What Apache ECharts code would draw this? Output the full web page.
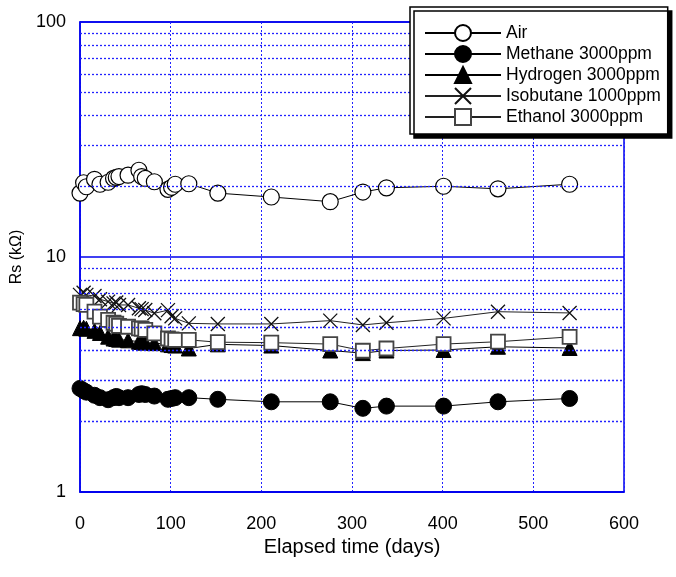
<!DOCTYPE html>
<html>
<head>
<meta charset="utf-8">
<script src="https://cdn.jsdelivr.net/npm/echarts@6/dist/echarts.min.js"></script>
<style>
html,body{margin:0;padding:0;background:#fff;}
#c{width:676px;height:577px;}
</style>
</head>
<body>
<div id="c"></div>
<script>
const days = [0, 4, 7, 16, 22, 31, 37, 40, 43, 53, 65, 68, 72, 82, 97, 101, 105, 120, 152, 211, 276, 312, 338, 401, 461, 540];
const air = [18.7, 20.7, 19.9, 21.4, 20.4, 20.8, 21.6, 21.8, 22.0, 22.3, 23.4, 22.0, 21.6, 20.9, 19.4, 19.8, 20.4, 20.5, 18.7, 18.0, 17.2, 18.9, 19.7, 20.0, 19.5, 20.4];
const methane = [2.76, 2.70, 2.66, 2.58, 2.52, 2.47, 2.52, 2.55, 2.52, 2.52, 2.60, 2.62, 2.60, 2.56, 2.48, 2.50, 2.52, 2.52, 2.48, 2.42, 2.42, 2.27, 2.32, 2.32, 2.42, 2.50];
const hydrogen = [4.98, 5.00, 4.95, 4.85, 4.75, 4.58, 4.50, 4.48, 4.45, 4.42, 4.36, 4.35, 4.32, 4.30, 4.25, 4.22, 4.20, 4.08, 4.25, 4.20, 4.00, 3.90, 4.00, 4.02, 4.15, 4.10];
const isobutane = [6.90, 7.05, 6.90, 6.82, 6.61, 6.46, 6.35, 6.40, 6.25, 6.25, 6.05, 6.00, 5.95, 5.76, 5.94, 5.60, 5.48, 5.22, 5.19, 5.19, 5.36, 5.14, 5.25, 5.48, 5.85, 5.78];
const ethanol = [6.40, 6.30, 6.25, 5.85, 5.57, 5.40, 5.25, 5.20, 5.09, 5.05, 4.97, 4.95, 4.90, 4.73, 4.50, 4.46, 4.44, 4.44, 4.34, 4.32, 4.26, 3.99, 4.08, 4.26, 4.36, 4.57];
const seriesNames = ['Air', 'Methane 3000ppm', 'Hydrogen 3000ppm', 'Isobutane 1000ppm', 'Ethanol 3000ppm'];
const minorGrid = [2, 3, 4, 5, 6, 7, 8, 9, 20, 30, 40, 50, 60, 70, 80, 90];
const xTitle = 'Elapsed time (days)';
const yTitle = 'Rs (kΩ)';

const FONT = 'Liberation Sans, Arial, sans-serif';
const BLUE = '#0000ee';
const DOT = '#2222ff';

function pairs(vals) { return days.map((d, i) => [d, vals[i]]); }
const dotStyle = { color: DOT, type: [2, 2], width: 1.3, opacity: 1 };

const chart = echarts.init(document.getElementById('c'));
chart.setOption({
  animation: false,
  backgroundColor: '#fff',
  grid: { left: 80, right: 52, top: 22, bottom: 85, show: true, borderColor: BLUE, borderWidth: 1.5, backgroundColor: 'transparent' },
  xAxis: {
    type: 'value', min: 0, max: 600, interval: 100,
    name: xTitle, nameLocation: 'middle', nameGap: 41,
    nameTextStyle: { fontFamily: FONT, fontSize: 20, color: '#000' },
    axisLine: { show: true, lineStyle: { color: BLUE, width: 1.5 } },
    axisTick: { show: false },
    axisLabel: { fontFamily: FONT, fontSize: 18, color: '#000', margin: 23 },
    splitLine: { show: true, lineStyle: { color: DOT, type: [2, 2], width: 1 } }
  },
  yAxis: {
    type: 'log', logBase: 10, min: 1, max: 100,
    name: yTitle, nameLocation: 'middle', nameGap: 53, nameRotate: 90,
    nameTextStyle: { fontFamily: FONT, fontSize: 16, color: '#000' },
    axisLine: { show: true, lineStyle: { color: BLUE, width: 1.5 } },
    axisTick: { show: false },
    axisLabel: { fontFamily: FONT, fontSize: 18, color: '#000', margin: 14 },
    splitLine: { show: true, lineStyle: { color: BLUE, width: 1.6 } }
  },
  legend: {
    orient: 'vertical', left: 410, top: 7, z: 20,
    data: seriesNames,
    itemWidth: 76, itemHeight: 20, itemGap: 1,
    padding: [16, 7, 7, 14],
    backgroundColor: '#fff', borderColor: '#000', borderWidth: 1.5,
    shadowColor: '#000', shadowBlur: 0, shadowOffsetX: 4, shadowOffsetY: 4,
    textStyle: { fontFamily: FONT, fontSize: 17.5, color: '#000', lineHeight: 20 }
  },
  series: [
    {
      type: 'line', name: 'grid', data: [], silent: true, z: 1, color: DOT,
      markLine: {
        silent: true, symbol: 'none', label: { show: false }, animation: false,
        lineStyle: dotStyle,
        data: minorGrid.map(v => ({ yAxis: v, lineStyle: dotStyle }))
      }
    },
    {
      type: 'line', name: seriesNames[0], data: pairs(air),
      symbol: 'circle', symbolSize: 16,
      lineStyle: { color: '#000', width: 1 },
      itemStyle: { color: '#fff', borderColor: '#000', borderWidth: 1.2 }
    },
    {
      type: 'line', name: seriesNames[1], data: pairs(methane),
      symbol: 'circle', symbolSize: 16,
      lineStyle: { color: '#000', width: 1 },
      itemStyle: { color: '#000', borderColor: '#000', borderWidth: 1 }
    },
    {
      type: 'line', name: seriesNames[2], data: pairs(hydrogen),
      symbol: 'triangle', symbolSize: 15,
      lineStyle: { color: '#000', width: 1 },
      itemStyle: { color: '#000', borderColor: '#000', borderWidth: 1 }
    },
    {
      type: 'line', name: seriesNames[3], data: pairs(isobutane),
      symbol: 'path://M0,0L10,10M10,0L0,10', symbolSize: 14,
      lineStyle: { color: '#222', width: 1 },
      itemStyle: { color: 'transparent', borderColor: '#111', borderWidth: 1.3 }
    },
    {
      type: 'line', name: seriesNames[4], data: pairs(ethanol),
      symbol: 'rect', symbolSize: 14,
      lineStyle: { color: '#222', width: 1 },
      itemStyle: { color: '#fff', borderColor: '#444', borderWidth: 1.8 }
    }
  ]
});
</script>
</body>
</html>
